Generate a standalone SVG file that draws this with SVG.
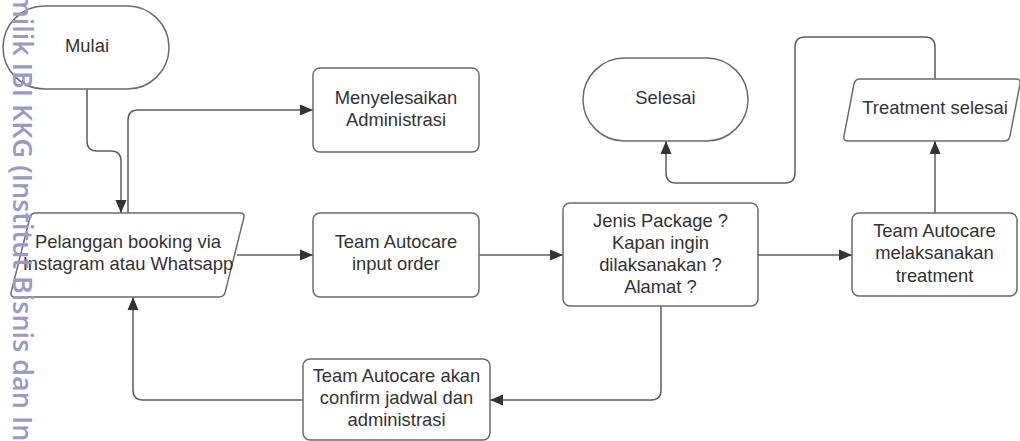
<svg xmlns="http://www.w3.org/2000/svg" width="1020" height="441" viewBox="0 0 1020 441">
<style>
.shape{fill:#ffffff;stroke:#6b6b6b;stroke-width:1.5}
.lbl{font-family:"Liberation Sans",Arial,sans-serif;font-size:18.4px;fill:#333333;text-anchor:middle}
.conn{fill:none;stroke:#5e5e5e;stroke-width:1.5}
.wm{font-family:"Open Sans","DejaVu Sans",sans-serif;font-weight:600;font-size:27px;fill:#9a9ac6}
</style>
<defs>
<marker id="arr" markerUnits="userSpaceOnUse" markerWidth="14" markerHeight="12" refX="13" refY="6" orient="auto">
<path d="M0,0.5 L13,6 L0,11.5 Z" fill="#333333"/>
</marker>
</defs>
<rect width="1020" height="441" fill="#ffffff"/>
<g id="connectors">
<path class="conn" d="M87,89 V141 Q87,151 97,151 H111 Q121,151 121,161 V213" marker-end="url(#arr)"/>
<path class="conn" d="M128,213 V120 Q128,110 138,110 H313" marker-end="url(#arr)"/>
<path class="conn" d="M237,255 H313" marker-end="url(#arr)"/>
<path class="conn" d="M479,255 H563" marker-end="url(#arr)"/>
<path class="conn" d="M758,255 H852" marker-end="url(#arr)"/>
<path class="conn" d="M935,213 V141" marker-end="url(#arr)"/>
<path class="conn" d="M935,79 V47 Q935,37 925,37 H805 Q795,37 795,47 V173 Q795,183 785,183 H676 Q666,183 666,173 V141" marker-end="url(#arr)"/>
<path class="conn" d="M661,306 V390 Q661,400 651,400 H490" marker-end="url(#arr)"/>
<path class="conn" d="M303,400 H143 Q133,400 133,390 V297" marker-end="url(#arr)"/>
</g>
<g id="mulai">
<rect class="shape" x="3" y="6" width="166" height="83" rx="41.5" ry="41.5"/>
<text class="lbl" x="87" y="52">Mulai</text>
</g>
<g id="menyelesaikan">
<rect class="shape" x="313" y="68" width="166" height="84" rx="7" ry="7"/>
<text class="lbl" x="396" y="104">Menyelesaikan</text>
<text class="lbl" x="396" y="126">Administrasi</text>
</g>
<g id="pelanggan">
<path class="shape" d="M36,213 H240 Q245,213 243.8,217.85 L225.2,292.15 Q224,297 219,297 H15 Q10,297 11.2,292.15 L29.8,217.85 Q31,213 36,213 Z"/>
<text class="lbl" x="128" y="248">Pelanggan booking via</text>
<text class="lbl" x="128" y="270">Instagram atau Whatsapp</text>
</g>
<g id="input-order">
<rect class="shape" x="313" y="213" width="166" height="84" rx="7" ry="7"/>
<text class="lbl" x="396" y="248">Team Autocare</text>
<text class="lbl" x="396" y="270">input order</text>
</g>
<g id="jenis-package">
<rect class="shape" x="563" y="203" width="195" height="103" rx="7" ry="7"/>
<text class="lbl" x="660.5" y="227">Jenis Package ?</text>
<text class="lbl" x="660.5" y="249">Kapan ingin</text>
<text class="lbl" x="660.5" y="271">dilaksanakan ?</text>
<text class="lbl" x="660.5" y="293">Alamat ?</text>
</g>
<g id="melaksanakan">
<rect class="shape" x="852" y="213" width="165" height="83" rx="7" ry="7"/>
<text class="lbl" x="934.5" y="237">Team Autocare</text>
<text class="lbl" x="934.5" y="259">melaksanakan</text>
<text class="lbl" x="934.5" y="281.5">treatment</text>
</g>
<g id="treatment-selesai">
<path class="shape" d="M860,79 H1016 Q1021,79 1020.05,83.91 L1009.95,136.09 Q1009,141 1004,141 H848 Q843,141 843.95,136.09 L854.05,83.91 Q855,79 860,79 Z"/>
<text class="lbl" x="935" y="114">Treatment selesai</text>
</g>
<g id="selesai">
<rect class="shape" x="583" y="58" width="165" height="83" rx="41.5" ry="41.5"/>
<text class="lbl" x="665.5" y="104">Selesai</text>
</g>
<g id="confirm-jadwal">
<rect class="shape" x="303" y="359" width="187" height="81" rx="7" ry="7"/>
<text class="lbl" x="396.5" y="382">Team Autocare akan</text>
<text class="lbl" x="396.5" y="404">confirm jadwal dan</text>
<text class="lbl" x="396.5" y="426">administrasi</text>
</g>
<g id="watermark">
<text class="wm" transform="translate(13,-8) rotate(90)" x="0" y="0">milik IBI KKG (Institut Bisnis dan In</text>
</g>
</svg>
